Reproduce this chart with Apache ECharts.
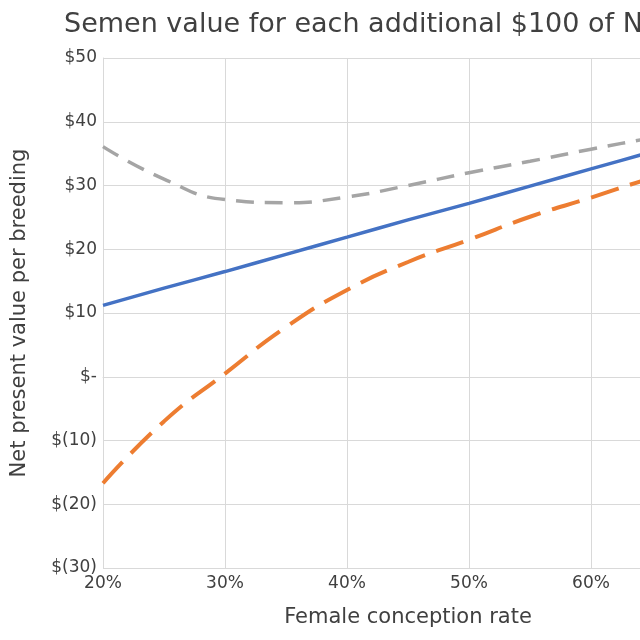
<!DOCTYPE html>
<html>
<head>
<meta charset="utf-8">
<script src="https://cdn.jsdelivr.net/npm/echarts@6/dist/echarts.min.js"></script>
<style>
  html, body { margin: 0; padding: 0; background: #fff; }
  #chart { width: 640px; height: 640px; }
</style>
</head>
<body>
<div id="chart"></div>
<script>
// 数据
var conceptionRate = [20, 25, 30, 35, 40, 45, 50, 55, 60, 65, 70];
var blueValues = [11.2, 13.9, 16.5, 19.2, 21.9, 24.6, 27.2, 29.9, 32.6, 35.3, 38.0];
var orangeValues = [-16.7, -7.0, 0.5, 7.8, 13.6, 18.0, 21.5, 25.1, 28.1, 31.2, 33.9];
var grayValues = [36.1, 31.0, 27.8, 27.3, 28.2, 30.0, 32.0, 33.8, 35.7, 37.5, 39.3];

function pairs(ys) {
  return conceptionRate.map(function (x, i) { return [x, ys[i]]; });
}

var textColor = "#404040";
var font = "DejaVu Sans";

var chart = echarts.init(document.getElementById("chart"));
chart.setOption({
  animation: false,
  backgroundColor: "#fff",
  title: {
    text: "Semen value for each additional $100 of Net Merit",
    left: 59,
    top: 6,
    textStyle: { fontFamily: font, fontSize: 27, fontWeight: "normal", color: textColor },
  },
  grid: {
    left: 103,
    top: 58,
    width: 610,
    height: 510,
    outerBoundsMode: "none",
  },
  xAxis: {
    type: "value",
    min: 20,
    max: 70,
    interval: 10,
    name: "Female conception rate",
    nameLocation: "middle",
    nameGap: 39,
    nameTextStyle: { fontFamily: font, fontSize: 21, color: textColor },
    axisLine: { show: true, lineStyle: { color: "#D9D9D9" } },
    axisTick: { show: false },
    axisLabel: {
      fontFamily: font,
      fontSize: 17,
      color: textColor,
      margin: 7,
      formatter: function (v) { return v + "%"; },
    },
    splitLine: { show: true, lineStyle: { color: "#D9D9D9", width: 1 } },
  },
  yAxis: {
    type: "value",
    min: -30,
    max: 50,
    interval: 10,
    name: "Net present value per breeding",
    nameLocation: "middle",
    nameGap: 73,
    nameTextStyle: { fontFamily: font, fontSize: 21, color: textColor },
    axisLine: { show: true, lineStyle: { color: "#D9D9D9" } },
    axisTick: { show: false },
    axisLabel: {
      fontFamily: font,
      fontSize: 17,
      color: textColor,
      margin: 6,
      formatter: function (v) {
        if (v === 0) return "$-";
        if (v < 0) return "$(" + (-v) + ")";
        return "$" + v;
      },
    },
    splitLine: { show: true, lineStyle: { color: "#D9D9D9", width: 1 } },
  },
  series: [
    {
      type: "line",
      data: pairs(blueValues),
      showSymbol: false,
      smooth: true,
      lineStyle: { color: "#4472C4", width: 3.5 },
    },
    {
      type: "line",
      data: pairs(orangeValues),
      showSymbol: false,
      smooth: true,
      lineStyle: { color: "#ED7D31", width: 4, type: [29, 12] },
    },
    {
      type: "line",
      data: pairs(grayValues),
      showSymbol: false,
      smooth: true,
      lineStyle: { color: "#A5A5A5", width: 3.5, type: [18, 11] },
    },
  ],
});
</script>
</body>
</html>
